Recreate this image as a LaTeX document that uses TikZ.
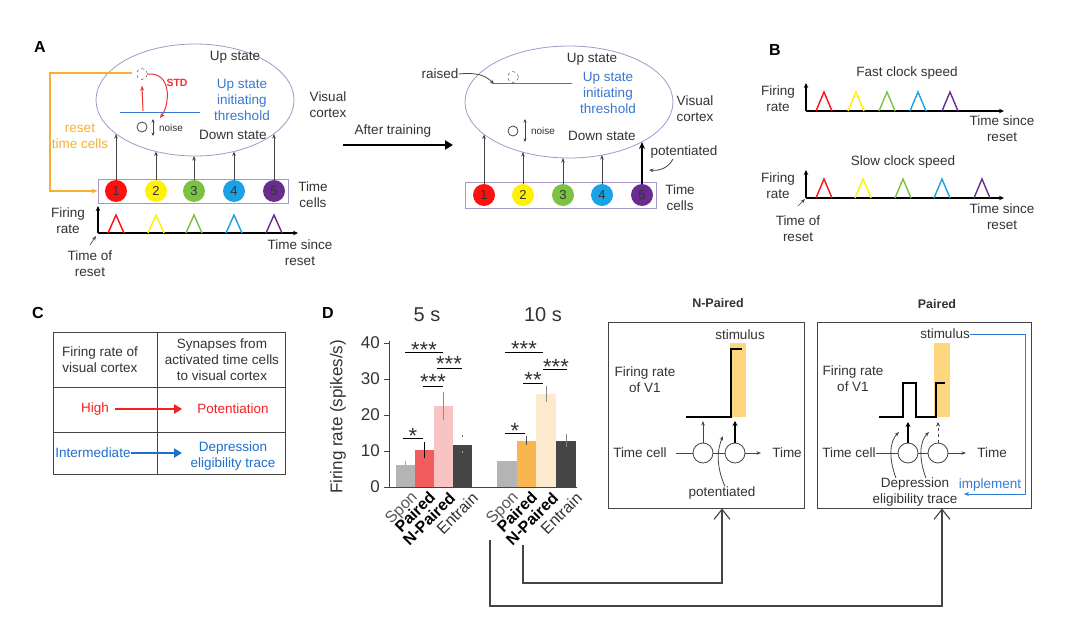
\documentclass[tikz,border=0pt]{standalone}
\usepackage{fontspec}
\setmainfont{Liberation Sans}
\usetikzlibrary{arrows.meta,shapes.geometric,calc}
\definecolor{txtc}{HTML}{333333}
\definecolor{linec}{HTML}{444444}
\definecolor{cellred}{HTML}{FF1010}
\definecolor{cellyel}{HTML}{FFF200}
\definecolor{cellgrn}{HTML}{7CC242}
\definecolor{cellblu}{HTML}{1BA1E6}
\definecolor{cellpur}{HTML}{6A2C91}
\definecolor{cortexc}{HTML}{A796C8}
\definecolor{thrblue}{HTML}{3A78D0}
\definecolor{rstorange}{HTML}{F7B031}
\definecolor{stdred}{HTML}{F03030}
\definecolor{barspon}{HTML}{B4B4B4}
\definecolor{barpaired}{HTML}{F25C5C}
\definecolor{barnpaired}{HTML}{F8C3C3}
\definecolor{barent}{HTML}{454545}
\definecolor{barpairedb}{HTML}{F9B650}
\definecolor{barnpairedb}{HTML}{FDE9CD}
\definecolor{stimy}{HTML}{FDD77E}
\definecolor{implblue}{HTML}{2F7BD8}
\definecolor{tabred}{HTML}{F52020}
\definecolor{tabblue}{HTML}{1E6FC8}
\tikzset{
  txt/.style={font=\fontsize{13.5}{16}\selectfont, text=txtc, align=center, inner sep=0pt},
  smalltxt/.style={font=\fontsize{10}{12}\selectfont, text=txtc, inner sep=0pt},
  panellbl/.style={font=\bfseries\fontsize{16}{18}\selectfont, text=black, inner sep=0pt},
  tcell/.style={circle, minimum size=22pt, inner sep=0pt, font=\fontsize{13}{15}\selectfont, text=txtc},
  conn/.style={draw=linec, line width=0.8pt, -{Stealth[length=4.5pt,width=3.5pt]}},
  thickconn/.style={draw=black, line width=2.4pt, -{Stealth[length=7pt,width=6pt]}},
  cortex/.style={draw=cortexc, line width=0.8pt},
  peak/.style={line width=1.4pt},
  axisarr/.style={draw=black, line width=1.1pt, -{Stealth[length=5pt,width=4.5pt]}},
  tabline/.style={draw=linec, line width=0.8pt},
  bigarrow/.style={line width=2.6pt, -{Triangle[length=8pt,width=9pt]}},
  sig/.style={draw=black, line width=0.8pt},
  stars/.style={font=\fontsize{22}{22}\selectfont, text=txtc, inner sep=0pt, anchor=base},
  ticklbl/.style={font=\fontsize{17}{17}\selectfont, text=txtc, inner sep=0pt, anchor=east},
  barlbl/.style={font=\fontsize{16}{16}\selectfont, inner sep=0pt, anchor=north east, rotate=45},
  barlblb/.style={font=\bfseries\fontsize{16}{16}\selectfont, text=black, inner sep=0pt, anchor=north east, rotate=45},
  vline/.style={draw=black, line width=1.5pt},
  cellring/.style={draw=linec, circle, minimum size=20pt, inner sep=0pt, line width=0.8pt, fill=white},
  barb/.style={draw=linec, line width=1.1pt, -{Straight Barb[length=10pt,width=16pt]}},
}
\begin{document}
\begin{tikzpicture}[x=1pt,y=-1pt]
\path[fill=white] (0,0) rectangle (1080,621);
\useasboundingbox (0,0) rectangle (1080,621);

% ================= Panel A (before) =================
\node[panellbl] (labA) at (40,47) {A};
\draw[cortex] (195,100) ellipse [x radius=99pt, y radius=56pt];
\node[txt] (upA) at (235,57) {Up state};
\node[txt, text=thrblue] (thrA) at (242,100) {Up state\\initiating\\threshold};
\node[txt] (downA) at (233,135) {Down state};
\node[txt] (vcA) at (328,105) {Visual\\cortex};
\node[txt, text=rstorange] (rstA) at (80,136) {reset\\time cells};
\draw[thrblue, line width=1pt] (120,112) -- (200,112);
\node[draw=linec, dashed, circle, minimum size=11pt, inner sep=0pt] (upcA) at (142,74) {};
\node[draw=linec, circle, minimum size=10pt, inner sep=0pt, line width=0.8pt] (dncA) at (142,127) {};
\coordinate (redsA) at (143,111);
\draw[stdred, line width=1pt, -{Stealth[length=5pt,width=4pt]}] (redsA) -- ([yshift=-6pt]upcA.south);
\coordinate (stdeA) at (160,118);
\draw[stdred, line width=1pt, -{Stealth[length=5pt,width=4pt]}] (upcA.east) .. controls (172,72) and (170,104) .. (stdeA);
\node[font=\bfseries\fontsize{10.5}{12}\selectfont, text=stdred, inner sep=0pt] (stdA) at (177,83) {STD};
\coordinate (nzaA) at (153,119);
\coordinate (nzbA) at (153,136);
\draw[draw=linec, line width=0.8pt, {Stealth[length=3.5pt,width=3pt]}-{Stealth[length=3.5pt,width=3pt]}] (nzaA) -- (nzbA);
\node[smalltxt] (noiseA) at (171,128) {noise};

\node[draw=cortexc, line width=0.8pt, minimum width=190pt, minimum height=24pt, inner sep=0pt] (tcboxA) at (193,191) {};
\node[tcell, fill=cellred] (cA1) at (116,191) {1};
\node[tcell, fill=cellyel] (cA2) at (156,191) {2};
\node[tcell, fill=cellgrn] (cA3) at (194,191) {3};
\node[tcell, fill=cellblu] (cA4) at (234,191) {4};
\node[tcell, fill=cellpur] (cA5) at (274,191) {5};
\coordinate (eA1) at (116,134);
\coordinate (eA2) at (156,151.5);
\coordinate (eA3) at (194,156);
\coordinate (eA4) at (234,151.5);
\coordinate (eA5) at (274,134);
\foreach \i in {1,...,5} \draw[conn] (cA\i.north) -- (eA\i);
\node[txt] (tclA) at (313,195) {Time\\cells};
\coordinate (rsA) at (132,73);
\draw[rstorange, line width=1.3pt, -{Stealth[length=6pt,width=5pt]}] (rsA) -- (50,73) -- (50,191) -- (tcboxA.west);

\coordinate (oA) at (98,233);
\draw[axisarr] (oA) -- (98,206);
\draw[axisarr] (oA) -- (298,233);
\foreach \x/\c in {116/cellred,156/cellyel,194/cellgrn,234/cellblu,274/cellpur}
  \draw[peak, \c] (\x-8,233) -- (\x,215) -- (\x+8,233);
\node[txt] (frA) at (68,221) {Firing\\rate};
\node[txt] (torA) at (90,264) {Time of\\reset};
\coordinate (torsA) at (90,245);
\draw[conn, line width=0.6pt] (torsA) -- (96,236);
\node[txt] (tsrA) at (300,253) {Time since\\reset};

% ================= After training arrow =================
\node[txt] (aft) at (393,131) {After training};
\coordinate (afs) at (343,145);
\coordinate (afe) at (453,145);
\draw[bigarrow] (afs) -- (afe);

% ================= Panel A (after) =================
\draw[cortex] (569,102) ellipse [x radius=104pt, y radius=56pt];
\node[txt] (upB) at (592,59) {Up state};
\node[txt] (raised) at (440,74) {raised};
\coordinate (raisedE) at (494,84);
\draw[conn] (raised.east) .. controls (478,72) and (486,76) .. (raisedE);
\node[draw=linec, dashed, circle, minimum size=11pt, inner sep=0pt] (upcB) at (513,77) {};
\draw[thrblue, line width=1pt] (492,83) -- (572,83);
\node[txt, text=thrblue] (thrB) at (608,93) {Up state\\initiating\\threshold};
\node[txt] (vcB) at (695,109) {Visual\\cortex};
\node[draw=linec, circle, minimum size=10pt, inner sep=0pt, line width=0.8pt] (dncB) at (513,131) {};
\coordinate (nzaB) at (525,119);
\coordinate (nzbB) at (525,142);
\draw[draw=linec, line width=0.8pt, {Stealth[length=3.5pt,width=3pt]}-{Stealth[length=3.5pt,width=3pt]}] (nzaB) -- (nzbB);
\node[smalltxt] (noiseB) at (543,131) {noise};
\node[txt] (downB) at (602,136) {Down state};

\node[draw=cortexc, line width=0.8pt, minimum width=191pt, minimum height=26pt, inner sep=0pt] (tcboxB) at (561,195) {};
\node[tcell, fill=cellred] (cB1) at (484,195) {1};
\node[tcell, fill=cellyel] (cB2) at (523,195) {2};
\node[tcell, fill=cellgrn] (cB3) at (563,195) {3};
\node[tcell, fill=cellblu] (cB4) at (602,195) {4};
\node[tcell, fill=cellpur] (cB5) at (642,195) {5};
\coordinate (eB1) at (484,134.5);
\coordinate (eB2) at (523,152);
\coordinate (eB3) at (563,158);
\coordinate (eB4) at (602,155);
\coordinate (eB5) at (642,142);
\foreach \i in {1,...,4} \draw[conn] (cB\i.north) -- (eB\i);
\draw[thickconn] (cB5.north) -- (eB5);
\node[txt] (tclB) at (680,198) {Time\\cells};
\node[txt] (potB) at (684,152) {potentiated};
\coordinate (potsB) at (673,159);
\coordinate (poteB) at (649,170);
\draw[conn] (potsB) .. controls (668,168) and (660,171) .. (poteB);

% ================= Panel B =================
\node[panellbl] (labB) at (775,50) {B};
\node[txt] (fast) at (907,73) {Fast clock speed};
\coordinate (oB1) at (806,111);
\draw[axisarr] (oB1) -- (806,83);
\draw[axisarr] (oB1) -- (1004,111);
\foreach \x/\c in {824/cellred,856/cellyel,887/cellgrn,918/cellblu,950/cellpur}
  \draw[peak, \c] (\x-8,111) -- (\x,92) -- (\x+8,111);
\node[txt] (frB1) at (778,99) {Firing\\rate};
\node[txt] (tsrB1) at (1002,129) {Time since\\reset};
\node[txt] (slow) at (903,162) {Slow clock speed};
\coordinate (oB2) at (806,198);
\draw[axisarr] (oB2) -- (806,170);
\draw[axisarr] (oB2) -- (1004,198);
\foreach \x/\c in {824/cellred,863/cellyel,903/cellgrn,942/cellblu,982/cellpur}
  \draw[peak, \c] (\x-8,198) -- (\x,179) -- (\x+8,198);
\node[txt] (frB2) at (778,186) {Firing\\rate};
\node[txt] (tsrB2) at (1002,217) {Time since\\reset};
\node[txt] (torB) at (798,229) {Time of\\reset};
\coordinate (torsB) at (798,206);
\draw[conn, line width=0.6pt] (torsB) -- (805,199);

% ================= Panel C =================
\node[panellbl] (labC) at (38,313) {C};
\draw[tabline] (53,332) rectangle (285,474);
\draw[tabline] (157,332) -- (157,474);
\draw[tabline] (53,387) -- (285,387);
\draw[tabline] (53,432) -- (285,432);
\node[txt] (th1) at (100,360) {Firing rate of\\visual cortex};
\node[txt] (th2) at (222,360) {Synapses from\\activated time cells\\to visual cortex};
\node[txt, text=tabred] (high) at (95,409) {High};
\node[txt, text=tabred] (potC) at (233,409) {Potentiation};
\draw[tabred, line width=2.6pt, -{Triangle[length=8pt,width=9pt]}] ([xshift=6pt]high.east) -- ([xshift=-15pt]potC.west);
\node[txt, text=tabblue] (inter) at (93,453) {Intermediate};
\node[txt, text=tabblue] (depC) at (233,456) {Depression\\eligibility trace};
\coordinate (depW) at (182,453);
\draw[tabblue, line width=2.6pt, -{Triangle[length=8pt,width=9pt]}] (inter.east) -- (depW);

% ================= Panel D: bar chart =================
\node[panellbl] (labD) at (328,313) {D};
\node[font=\fontsize{20}{20}\selectfont, text=txtc, inner sep=0pt] (t5) at (427,315) {5 s};
\node[font=\fontsize{20}{20}\selectfont, text=txtc, inner sep=0pt] (t10) at (543,315) {10 s};
\node[font=\fontsize{17}{17}\selectfont, text=txtc, inner sep=0pt, rotate=90] (ylab) at (338,417) {Firing rate (spikes/s)};
% bars
\fill[barspon] (396,487) rectangle (415,464.7);
\fill[barpaired] (415,487) rectangle (434,449.9);
\fill[barnpaired] (434,487) rectangle (453,406);
\fill[barent] (453,487) rectangle (472,444.5);
\fill[barspon] (497,487) rectangle (517,461.1);
\fill[barpairedb] (517,487) rectangle (536,440.6);
\fill[barnpairedb] (536,487) rectangle (556,394.1);
\fill[barent] (556,487) rectangle (576,440.9);
% error bars
\draw[draw=black!35, line width=0.9pt] (405.5,464.7) -- (405.5,460.7);
\draw[draw=black, line width=1pt] (424.5,458.2) -- (424.5,442);
\draw[draw=black!45, line width=1pt] (443.5,420.4) -- (443.5,391.6);
\draw[draw=black!35, line width=0.9pt] (462.5,452.8) -- (462.5,450.8);
\draw[draw=black!60, line width=0.9pt] (462.5,436.8) -- (462.5,434.8);
\draw[draw=black!70, line width=1pt] (526.5,444.9) -- (526.5,435.9);
\draw[draw=black!45, line width=1pt] (546,402.4) -- (546,386.2);
\draw[draw=black!50, line width=1pt] (566,447.4) -- (566,433.7);
% axes
\draw[draw=linec, line width=1pt] (389,341) -- (389,487) -- (577,487);
\foreach \v/\y in {0/487,10/451,20/415,30/379,40/343} {
  \draw[draw=linec, line width=1pt] (384,\y) -- (389,\y);
  \node[ticklbl] (tk\v) at (380,\y) {\v};
}
% significance
\draw[sig] (405,352) -- (443,352); \node[stars] (s1) at (424,357.5) {***};
\draw[sig] (437,368) -- (462,368); \node[stars] (s2) at (449,371.5) {***};
\draw[sig] (423,386) -- (443,386); \node[stars] (s3) at (433,389.5) {***};
\draw[sig] (403,438) -- (423,438); \node[stars] (s4) at (413,443.5) {*};
\draw[sig] (505,352) -- (543,352); \node[stars] (s5) at (524,356.5) {***};
\draw[sig] (543,369) -- (567,369); \node[stars] (s6) at (556,374.5) {***};
\draw[sig] (523,383) -- (543,383); \node[stars] (s7) at (533,387.5) {**};
\draw[sig] (505,433) -- (525,433); \node[stars] (s8) at (515,438.5) {*};
% bar labels
\node[barlbl, text=black!65] (l1) at (410,490) {Spon};
\node[barlblb] (l2) at (428,490) {Paired};
\node[barlblb] (l3) at (448,491) {N-Paired};
\node[barlbl, text=txtc] (l4) at (471,491) {Entrain};
\node[barlbl, text=black!65] (l5) at (511,490) {Spon};
\node[barlblb] (l6) at (530,490) {Paired};
\node[barlblb] (l7) at (551,491) {N-Paired};
\node[barlbl, text=txtc] (l8) at (575,491) {Entrain};

% ================= N-Paired box =================
\node[draw=linec, line width=0.9pt, minimum width=196pt, minimum height=186pt, inner sep=0pt] (npbox) at (706,415) {};
\node[txt, font=\bfseries\fontsize{12.5}{15}\selectfont] (nptitle) at (718,303) {N-Paired};
\node[txt] (npstim) at (740,335) {stimulus};
\fill[stimy] (730,343) rectangle (746,417);
\draw[vline] (686,417) -- (731,417) -- (731,349) -- (742,349);
\node[txt] (npfr) at (645,380) {Firing rate\\of V1};
\node[txt] (nptc) at (640,453) {Time cell};
\node[cellring] (npc1) at (703,453) {};
\node[cellring] (npc2) at (735,453) {};
\coordinate (nptcl) at (676,453);
\draw[draw=linec, line width=0.8pt] (nptcl) -- (npc1.west);
\draw[draw=linec, line width=0.8pt] (npc1.east) -- (npc2.west);
\coordinate (nptime) at (761,453);
\draw[conn] (npc2.east) -- (nptime);
\node[txt] (nptimel) at (787,453) {Time};
\coordinate (npu1) at (703,421);
\coordinate (npu2) at (735,421);
\draw[conn] (npc1.north) -- (npu1);
\draw[thickconn, line width=1.8pt, -{Stealth[length=5pt,width=5pt]}] (npc2.north) -- (npu2);
\node[txt] (nppot) at (722,493) {potentiated};
\coordinate (npsyn) at (723,436);
\draw[conn] ([xshift=3pt]nppot.north) .. controls (716,466) and (717,450) .. (npsyn);

% ================= Paired box =================
\node[draw=linec, line width=0.9pt, minimum width=214pt, minimum height=186pt, inner sep=0pt] (pbox) at (924,415) {};
\node[txt, font=\bfseries\fontsize{12.5}{15}\selectfont] (ptitle) at (937,304) {Paired};
\node[txt] (pstim) at (945,334) {stimulus};
\fill[stimy] (934,343) rectangle (950,417);
\draw[vline] (879,417) -- (903,417) -- (903,383) -- (916,383) -- (916,417) -- (936,417) -- (936,383) -- (945,383);
\node[txt] (pfr) at (853,379) {Firing rate\\of V1};
\node[txt] (ptc) at (849,453) {Time cell};
\node[cellring] (pc1) at (908,453) {};
\node[cellring] (pc2) at (938,453) {};
\draw[draw=linec, line width=0.8pt] (ptc.east) -- (pc1.west);
\draw[draw=linec, line width=0.8pt] (pc1.east) -- (pc2.west);
\coordinate (ptime) at (966,453);
\draw[conn] (pc2.east) -- (ptime);
\node[txt] (ptimel) at (992,453) {Time};
\coordinate (pu1) at (908,422);
\coordinate (pu2) at (938,422);
\draw[thickconn, line width=1.8pt, -{Stealth[length=5pt,width=5pt]}] (pc1.north) -- (pu1);
\draw[draw=linec, line width=0.9pt, dashed, -{Stealth[length=4.5pt,width=4pt]}] (pc2.north) -- (pu2);
\node[txt] (pdep) at (915,492) {Depression\\eligibility trace};
\coordinate (pd1s) at (896,478);
\coordinate (pd1e) at (899,432);
\coordinate (pd2s) at (926,478);
\coordinate (pd2e) at (929,432);
\draw[conn] (pd1s) .. controls (889,460) and (889,442) .. (pd1e);
\draw[conn] (pd2s) .. controls (919,460) and (919,442) .. (pd2e);
\node[txt, text=implblue] (impl) at (990,485) {implement};
\coordinate (ib1) at (1025,334);
\coordinate (ib2) at (1025,494);
\coordinate (ibe) at (964,494);
\draw[implblue, line width=0.9pt, -{Stealth[length=5pt,width=4pt]}] (pstim.east) -- (ib1) -- (ib2) -- (ibe);

% ================= connectors from bars to boxes =================
\coordinate (nplb) at (523,545);
\coordinate (npturn) at (722,583);
\coordinate (npin) at (722,508.5);
\draw[barb] (nplb) |- (npturn) -- (npin);
\coordinate (plb) at (490,540);
\coordinate (pturn) at (942,606);
\coordinate (pin) at (942,508.5);
\draw[barb] (plb) |- (pturn) -- (pin);
\end{tikzpicture}
\end{document}
